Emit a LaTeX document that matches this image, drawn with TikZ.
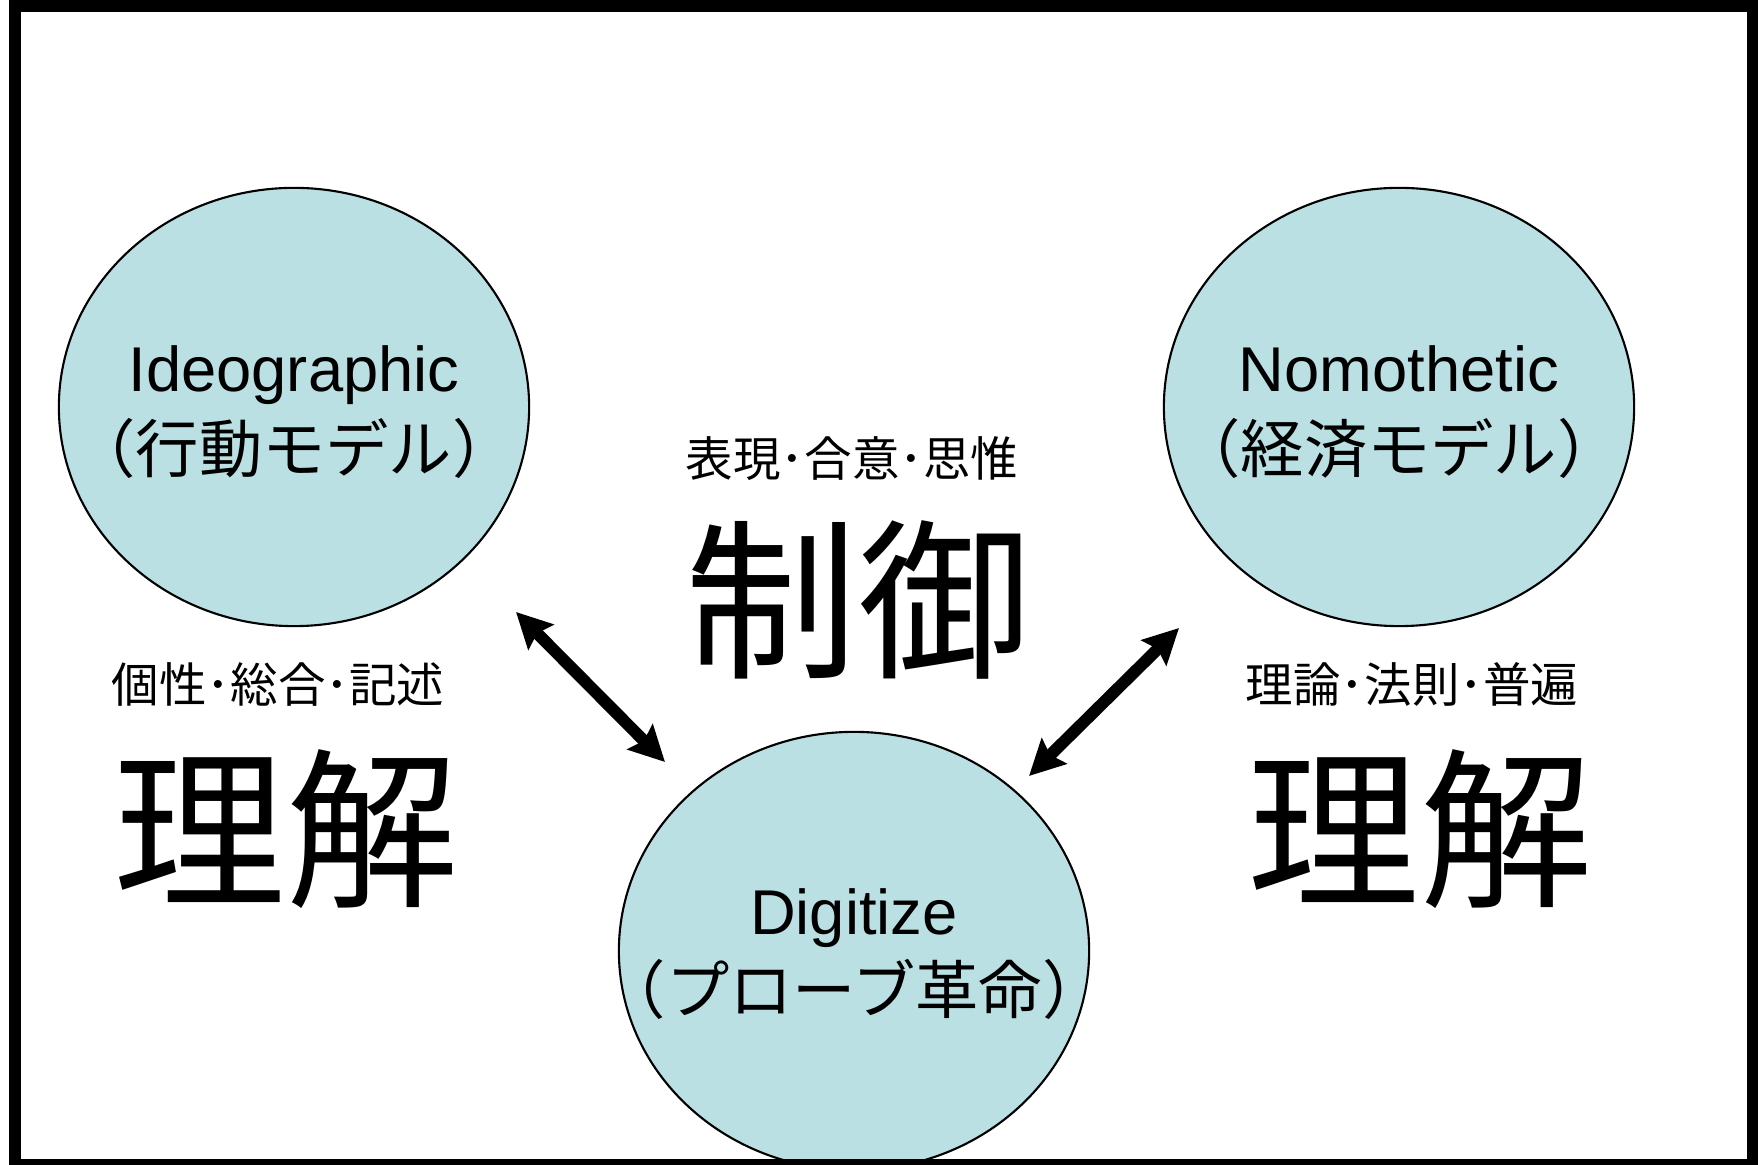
\documentclass[tikz,border=0pt]{standalone}
\usepackage{fontspec}
\setmainfont{Liberation Sans}
\newfontfamily\jp{Noto Sans CJK JP}
\usetikzlibrary{shapes.geometric,arrows.meta}
\definecolor{bubclr}{RGB}{187,224,227}
\tikzset{
  bubble/.style = {ellipse, draw, fill=bubclr, line width=0.6pt, inner sep=0pt,
                   minimum width=4.70cm, minimum height=4.38cm},
  ttl/.style    = {anchor=base, inner sep=0pt, font=\fontsize{18}{21}\selectfont},
  sub/.style    = {anchor=base, inner sep=0pt, font=\jp\fontsize{18}{21}\selectfont},
  kw/.style     = {inner sep=0pt, font=\jp\fontsize{13.5}{16}\selectfont},
  big/.style    = {inner sep=0pt, font=\jp\fontsize{49}{55}\selectfont},
  dbl/.style    = {{Stealth[length=10pt,width=10pt,inset=1.5pt]}-{Stealth[length=10pt,width=10pt,inset=1.5pt]},
                   line width=3.4pt},
}
\begin{document}
\begin{tikzpicture}[x=0.01cm, y=-0.01cm]
    \useasboundingbox (0,0) rectangle (1758,1165);
    % -- Bubbles ---------------------------------------------------
    \node[bubble] (ideo) at (294,407) {};
    \node[bubble] (nomo) at (1399,407) {};
    \node[bubble] (digi) at (854,951) {};
    % -- Bubble texts ----------------------------------------------
    \node[ttl] (ideoT) at (294,392) {Ideographic};
    \node[sub] (ideoS) at (294,473) {（行動モデル）};
    \node[ttl] (nomoT) at (1399,392) {Nomothetic};
    \node[sub] (nomoS) at (1399,473) {（経済モデル）};
    \node[ttl] (digiT) at (854,935) {Digitize};
    \node[sub] (digiS) at (854,1014) {（プローブ革命）};

    % -- Keywords --------------------------------------------------
    \node[kw] (ctrlK) at (852,459) {表現･合意･思惟};
    \node[big] (ctrl) at (858,600) {制御};
    \foreach \n/\x/\txt in {left/278/個性･総合･記述, right/1412/理論･法則･普遍}{
        \node[kw] (\n K) at (\x,684) {\txt};
    }
    \node[big] (leftU) at (286,829) {理解};
    \node[big] (rightU) at (1420,829) {理解};

    % -- Arrows ----------------------------------------------------
    \coordinate (ideoEnd) at (516,612);
    \coordinate (digiL) at (665,762);
    \coordinate (nomoEnd) at (1179,628);
    \coordinate (digiR) at (1029,776);
    \draw[dbl] (ideoEnd) -- (digiL);
    \draw[dbl] (nomoEnd) -- (digiR);

    % -- Frame -----------------------------------------------------
    \draw[line width=3.4pt] (15,6) rectangle (1753,1165);
\end{tikzpicture}
\end{document}
